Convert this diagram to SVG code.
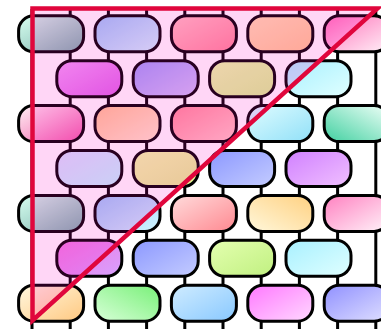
<svg xmlns="http://www.w3.org/2000/svg" width="381" height="329" viewBox="0 0 381 329">
<style>
.wire{stroke:#000;stroke-width:3;fill:none}
.gate{stroke:#000;stroke-width:3}
.tri{fill:#ff00c8;fill-opacity:0.16;stroke:#e0063c;stroke-width:4.5;stroke-linejoin:miter;stroke-miterlimit:10}
</style>
<defs>
<linearGradient id="d" x1="0" y1="0" x2="1" y2="1"/>
<linearGradient id="g00" href="#d"><stop offset="0" stop-color="#d8fff0"/><stop offset="1" stop-color="#78b0aa"/></linearGradient>
<linearGradient id="g01" href="#d"><stop offset="0" stop-color="#98c8fa"/><stop offset="1" stop-color="#d0f4ff"/></linearGradient>
<linearGradient id="g02" href="#d"><stop offset="0" stop-color="#ffc0c0"/><stop offset="1" stop-color="#ff8898"/></linearGradient>
<linearGradient id="g03" href="#d"><stop offset="0" stop-color="#ffe0b0"/><stop offset="1" stop-color="#ffc890"/></linearGradient>
<linearGradient id="g04" href="#d"><stop offset="0" stop-color="#ff70b8"/><stop offset="1" stop-color="#fff0f8"/></linearGradient>
<linearGradient id="g11" href="#d"><stop offset="0" stop-color="#f0a0f8"/><stop offset="1" stop-color="#dc64e8"/></linearGradient>
<linearGradient id="g13" href="#d"><stop offset="0" stop-color="#9c9cf8"/><stop offset="1" stop-color="#d0c0f8"/></linearGradient>
<linearGradient id="g15" href="#d"><stop offset="0" stop-color="#eaffa8"/><stop offset="1" stop-color="#d8f490"/></linearGradient>
<linearGradient id="g17" href="#d"><stop offset="0" stop-color="#a8f0ff"/><stop offset="1" stop-color="#e0ffff"/></linearGradient>
<linearGradient id="g20" href="#d"><stop offset="0" stop-color="#fff0f4"/><stop offset="1" stop-color="#f05aa8"/></linearGradient>
<linearGradient id="g22" href="#d"><stop offset="0" stop-color="#ffc490"/><stop offset="1" stop-color="#ffe8cc"/></linearGradient>
<linearGradient id="g24" href="#d"><stop offset="0" stop-color="#ff8c98"/><stop offset="1" stop-color="#ffc8c4"/></linearGradient>
<linearGradient id="g26" href="#d"><stop offset="0" stop-color="#e0fcff"/><stop offset="1" stop-color="#90e0f8"/></linearGradient>
<linearGradient id="g28" x1="0" y1="1" x2="1" y2="0"><stop offset="0" stop-color="#40d0a0"/><stop offset="1" stop-color="#f0fff8"/></linearGradient>
<linearGradient id="g31" href="#d"><stop offset="0" stop-color="#d8e0ff"/><stop offset="1" stop-color="#c0f8ff"/></linearGradient>
<linearGradient id="g33" href="#d"><stop offset="0" stop-color="#f2ffa8"/><stop offset="1" stop-color="#e4f090"/></linearGradient>
<linearGradient id="g35" href="#d"><stop offset="0" stop-color="#8c98ff"/><stop offset="1" stop-color="#c4ccff"/></linearGradient>
<linearGradient id="g37" href="#d"><stop offset="0" stop-color="#d080ff"/><stop offset="1" stop-color="#f0c0ff"/></linearGradient>
<linearGradient id="g44" href="#d"><stop offset="0" stop-color="#ffdcdc"/><stop offset="1" stop-color="#ff8890"/></linearGradient>
<linearGradient id="g46" x1="0" y1="1" x2="1" y2="0"><stop offset="0" stop-color="#fff8dc"/><stop offset="1" stop-color="#ffd080"/></linearGradient>
<linearGradient id="g48" href="#d"><stop offset="0" stop-color="#ff80c0"/><stop offset="1" stop-color="#fff4fa"/></linearGradient>
<linearGradient id="g51" href="#d"><stop offset="0" stop-color="#f078e0"/><stop offset="1" stop-color="#d8a0ff"/></linearGradient>
<linearGradient id="g55" href="#d"><stop offset="0" stop-color="#e4ffb0"/><stop offset="1" stop-color="#c0f080"/></linearGradient>
<linearGradient id="g60" href="#d"><stop offset="0" stop-color="#fff8e0"/><stop offset="1" stop-color="#ffc880"/></linearGradient>
<linearGradient id="g62" x1="0" y1="1" x2="1" y2="0"><stop offset="0" stop-color="#d8ffd8"/><stop offset="1" stop-color="#78f078"/></linearGradient>
<linearGradient id="g64" href="#d"><stop offset="0" stop-color="#d0ecff"/><stop offset="1" stop-color="#88c8ff"/></linearGradient>
<linearGradient id="g66" href="#d"><stop offset="0" stop-color="#ff78ff"/><stop offset="1" stop-color="#ffd8ff"/></linearGradient>
<linearGradient id="g68" href="#d"><stop offset="0" stop-color="#9090ff"/><stop offset="1" stop-color="#e0e0ff"/></linearGradient>
<rect id="gt" width="65" height="36" rx="15"/>
</defs>
<rect width="381" height="329" fill="#fff"/>
<g id="wires">
<line class="wire" x1="32" y1="9" x2="32" y2="329"/>
<line class="wire" x1="70.2" y1="9" x2="70.2" y2="329"/>
<line class="wire" x1="108.4" y1="9" x2="108.4" y2="329"/>
<line class="wire" x1="146.6" y1="9" x2="146.6" y2="329"/>
<line class="wire" x1="184.8" y1="9" x2="184.8" y2="329"/>
<line class="wire" x1="223" y1="9" x2="223" y2="329"/>
<line class="wire" x1="261.2" y1="9" x2="261.2" y2="329"/>
<line class="wire" x1="299.4" y1="9" x2="299.4" y2="329"/>
<line class="wire" x1="337.6" y1="9" x2="337.6" y2="329"/>
<line class="wire" x1="375.8" y1="9" x2="375.8" y2="329"/>
</g>
<g id="r0g0"><use href="#gt" class="gate" x="18.6" y="15.8" fill="url(#g00)"/></g>
<g id="r0g1"><use href="#gt" class="gate" x="95" y="15.8" fill="url(#g01)"/></g>
<g id="r0g2"><use href="#gt" class="gate" x="171.4" y="15.8" fill="url(#g02)"/></g>
<g id="r0g3"><use href="#gt" class="gate" x="247.8" y="15.8" fill="url(#g03)"/></g>
<g id="r0g4"><use href="#gt" class="gate" x="324.2" y="15.8" fill="url(#g04)"/></g>
<g id="r1g0"><use href="#gt" class="gate" x="56.8" y="60.7" fill="url(#g11)"/></g>
<g id="r1g1"><use href="#gt" class="gate" x="133.2" y="60.7" fill="url(#g13)"/></g>
<g id="r1g2"><use href="#gt" class="gate" x="209.6" y="60.7" fill="url(#g15)"/></g>
<g id="r1g3"><use href="#gt" class="gate" x="286" y="60.7" fill="url(#g17)"/></g>
<g id="r2g0"><use href="#gt" class="gate" x="18.6" y="105.6" fill="url(#g20)"/></g>
<g id="r2g1"><use href="#gt" class="gate" x="95" y="105.6" fill="url(#g22)"/></g>
<g id="r2g2"><use href="#gt" class="gate" x="171.4" y="105.6" fill="url(#g24)"/></g>
<g id="r2g3"><use href="#gt" class="gate" x="247.8" y="105.6" fill="url(#g26)"/></g>
<g id="r2g4"><use href="#gt" class="gate" x="324.2" y="105.6" fill="url(#g28)"/></g>
<g id="r3g0"><use href="#gt" class="gate" x="56.8" y="150.5" fill="url(#g31)"/></g>
<g id="r3g1"><use href="#gt" class="gate" x="133.2" y="150.5" fill="url(#g33)"/></g>
<g id="r3g2"><use href="#gt" class="gate" x="209.6" y="150.5" fill="url(#g35)"/></g>
<g id="r3g3"><use href="#gt" class="gate" x="286" y="150.5" fill="url(#g37)"/></g>
<g id="r4g0"><use href="#gt" class="gate" x="18.6" y="195.4" fill="url(#g00)"/></g>
<g id="r4g1"><use href="#gt" class="gate" x="95" y="195.4" fill="url(#g01)"/></g>
<g id="r4g2"><use href="#gt" class="gate" x="171.4" y="195.4" fill="url(#g44)"/></g>
<g id="r4g3"><use href="#gt" class="gate" x="247.8" y="195.4" fill="url(#g46)"/></g>
<g id="r4g4"><use href="#gt" class="gate" x="324.2" y="195.4" fill="url(#g48)"/></g>
<g id="r5g0"><use href="#gt" class="gate" x="56.8" y="240.3" fill="url(#g51)"/></g>
<g id="r5g1"><use href="#gt" class="gate" x="133.2" y="240.3" fill="url(#g35)"/></g>
<g id="r5g2"><use href="#gt" class="gate" x="209.6" y="240.3" fill="url(#g55)"/></g>
<g id="r5g3"><use href="#gt" class="gate" x="286" y="240.3" fill="url(#g17)"/></g>
<g id="r6g0"><use href="#gt" class="gate" x="18.6" y="285.2" fill="url(#g60)"/></g>
<g id="r6g1"><use href="#gt" class="gate" x="95" y="285.2" fill="url(#g62)"/></g>
<g id="r6g2"><use href="#gt" class="gate" x="171.4" y="285.2" fill="url(#g64)"/></g>
<g id="r6g3"><use href="#gt" class="gate" x="247.8" y="285.2" fill="url(#g66)"/></g>
<g id="r6g4"><use href="#gt" class="gate" x="324.2" y="285.2" fill="url(#g68)"/></g>
<g id="region"><polygon class="tri" points="32.5,8.5 377.5,8.5 32.5,320.5"/></g>
</svg>
